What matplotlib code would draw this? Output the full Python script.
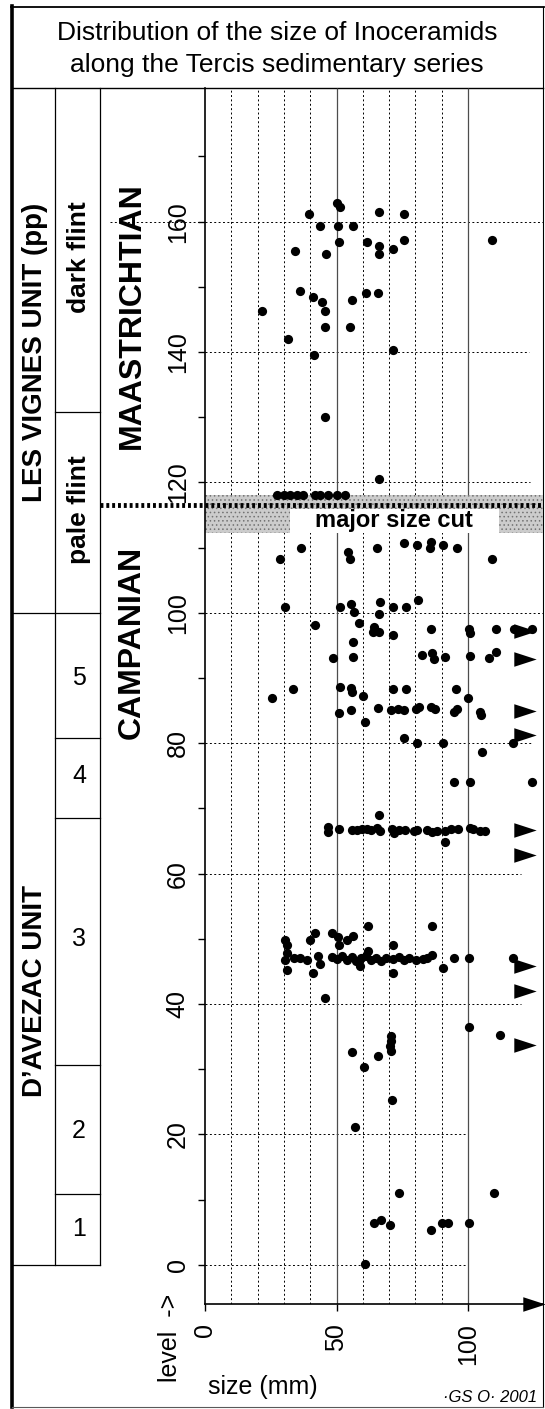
import numpy as np
import matplotlib.pyplot as plt
from matplotlib import transforms
from matplotlib.path import Path
from matplotlib.patches import Rectangle

plt.rcParams['font.family'] = ['Liberation Sans', 'DejaVu Sans']

title_lines = ["Distribution of the size of Inoceramids",
               "along the Tercis sedimentary series"]

# shells: (size in mm, level)
maastrichtian = [
    (50, 162.8), (51.5, 162.2), (39.5, 161.1), (66, 161.5), (75.8, 161.1),
    (43.6, 159.3), (50.6, 159.3), (56.2, 159.3),
    (50.9, 156.9), (61.6, 156.9), (66, 156.2), (66, 155.1), (71.3, 155.8),
    (75.8, 157.2), (34.3, 155.5), (46.1, 155.1), (109.2, 157.2),
    (36, 149.4), (41, 148.5), (44.6, 147.7), (45.8, 146.3), (55.9, 148),
    (61.2, 149.1), (65.6, 149.1), (21.5, 146.3),
    (45.8, 143.8), (55.2, 143.8), (31.7, 142), (41.4, 139.6), (71.3, 140.3),
    (45.8, 130), (66, 120.5),
    (27.4, 118.1), (29.9, 118.1), (32.4, 118.1), (34.9, 118.1), (37.4, 118.1),
    (41.8, 118.1), (43.7, 118.1), (46.9, 118.1), (50, 118.1), (53.1, 118.1),
]

campanian_upper = [
    (28.6, 108.3), (36.4, 110.0), (54.4, 109.3), (55, 108.3), (65.3, 110.0),
    (75.5, 110.7), (80.7, 110.4), (85.8, 110.9), (85.6, 110.0), (90.6, 110.4),
    (95.8, 110.0), (109, 108.3),
    (30.6, 100.9), (51.5, 100.9), (55.6, 101.4), (56.5, 100.2), (66.6, 101.6),
    (66.3, 99.8), (71.6, 100.9), (76.3, 100.9), (81, 101.9),
    (41.9, 98.1), (58.5, 98.4), (64.4, 97.8), (63.8, 97), (66.3, 97.1),
    (71.6, 96.6), (86, 97.6), (100.3, 97.6), (100.6, 96.9), (110.6, 97.6),
    (117.5, 97.6), (124.4, 97.5), (56.3, 95.6),
    (48.5, 93.1), (56.3, 93.3), (82.5, 93.6), (86.3, 93.8), (86.9, 92.9),
    (91.3, 93.2), (100.6, 93.4), (108.1, 93.1), (110.6, 94),
    (25.3, 86.9), (33.5, 88.3), (51.5, 88.6), (55.5, 88.5), (56, 87.8),
    (60.1, 87.2), (71.6, 88.3), (76.3, 88.3), (95.3, 88.3), (100, 86.9),
    (50.8, 84.7), (55.4, 85.1), (65.6, 85.4), (70.6, 85.1), (73.2, 85.3),
    (75.7, 85.1), (80.1, 85.3), (81.4, 85.6), (85.8, 85.6), (87.3, 85.3),
    (94.7, 84.8), (95.9, 85.3), (104.6, 84.8), (105, 84.3), (60.9, 83.3),
    (75.7, 80.8), (80.5, 80.1), (90.5, 80.1), (117.2, 80.1), (105.2, 78.6),
    (94.7, 74.1), (100.6, 74.1), (124.2, 74.1), (66, 69),
]

bed_67 = [
    (46.6, 67.1), (46.6, 66.4), (51, 66.9), (56, 66.7), (57.9, 66.7),
    (59.8, 66.9), (61.7, 66.8), (63, 66.7), (65.5, 67), (66.7, 66.6),
    (71.1, 66.9), (71.7, 66.3), (73.6, 66.7), (76.1, 66.7), (79.3, 66.6),
    (80.5, 66.7), (84.3, 66.7), (86.2, 66.4), (88.1, 66.6), (91.2, 66.5),
    (93.7, 66.8), (96.2, 66.9), (100.6, 67.0), (101.9, 66.8), (104.4, 66.6),
    (106.3, 66.6), (91.2, 64.9),
]

bed_47 = [
    (30.5, 49.8), (31.2, 49.1), (31.2, 47.8), (30.5, 46.8), (31.2, 45.2),
    (33.7, 47.1), (36.2, 47.1), (38.7, 46.8), (40, 49.8), (41.8, 50.9),
    (43.1, 47.3), (43.7, 46.1), (41.2, 44.8), (48.1, 50.9), (50.6, 50.3),
    (51, 49.1), (53.8, 49.8), (56.3, 50.5), (61.9, 51.9), (86.4, 51.9),
    (71.4, 49.1),
    (48.1, 47.2), (50, 46.9), (51.9, 47.4), (53.8, 46.7), (55.7, 47.2),
    (57.5, 46.6), (59.4, 47.1), (61.3, 47.4), (63.2, 46.8), (65.1, 47.0),
    (67, 46.6), (68.8, 47.1), (71.4, 46.9), (73.9, 47.2), (75.8, 46.8),
    (77.6, 47.0), (80.2, 46.7), (82.7, 46.9), (84.5, 47.0),
    (58.8, 45.8), (61.9, 48.2), (71.4, 44.8), (86.4, 47.5), (90.6, 45.5),
    (94.8, 47.1), (100.5, 47.1), (117.2, 47.1),
]

campanian_lower = [
    (45.6, 40.9), (100.4, 36.5), (112.2, 35.2), (55.9, 32.7), (60.5, 30.3),
    (65.8, 32.0), (70.9, 35.1), (70.9, 34.3), (70.9, 32.8), (70.2, 33.6),
    (71.1, 25.3), (57, 21.1), (73.9, 11.0), (109.9, 11.0),
    (64.2, 6.4), (66.9, 6.9), (70.2, 6.1), (86.1, 5.4), (90.1, 6.4),
    (92.3, 6.4), (100.3, 6.4), (60.7, 0.15),
]

# levels with shells larger than the scale (arrows)
big_levels = [97.2, 93.0, 85.0, 81.2, 66.7, 62.9, 45.8, 42.0, 33.7]

# columns on the left
units = ["LES VIGNES UNIT (pp)", "D\u2019AVEZAC UNIT"]
unit_label_at = [140, 42]
unit_limits = [100, 0]

subunits = ["dark flint", "pale flint", "5", "4", "3", "2", "1"]
subunit_label_at = [154.5, 115.8, 90, 75, 50, 20.5, 5.5]
subunit_limits = [130.8, 80.8, 68.5, 30.6, 10.8]

stages = ["MAASTRICHTIAN", "CAMPANIAN"]
stage_label_at = [145.6, 95.5]
size_cut = 116.6
cut_band = [112.3, 118.1]
cut_box = [32.4, 111.6, 116.0]

level_ticks = np.arange(0, 161, 20)
size_ticks = [0, 50, 100]
grid_sizes = [10, 20, 30, 40, 60, 70, 80, 90]
grid_right = [100, 100, 120, 120, 124, 128.5, 123.5, 123, 128.5]

pts = np.array(maastrichtian + campanian_upper + bed_67 + bed_47 + campanian_lower)

fig = plt.figure(figsize=(5.45, 14.09), dpi=100)
bg = fig.add_axes([0, 0, 1, 1])
bg.set_xlim(0, 545)
bg.set_ylim(1409, 0)
bg.axis('off')

ax = fig.add_axes([205 / 545, 105 / 1409, 338 / 545, 1216 / 1409])
ax.set_xlim(0, 128.5)
ax.set_ylim(-6, 180.5)
ax.patch.set_alpha(0)
top = 180.5

# x in figure pixels, y in levels
mix = transforms.blended_transform_factory(bg.transData, ax.transData)

# frame and title box
bg.plot([12, 12], [6, 1407], color='k', lw=2.6)
bg.plot([11, 544], [7, 7], color='k', lw=1.3)
bg.plot([543, 543], [7, 1407], color='k', lw=0.8)
bg.plot([12, 543], [1407, 1407], color='0.35', lw=0.8)
bg.plot([12, 543], [88, 88], color='k', lw=1.0)
bg.text(277, 33, title_lines[0], ha='center', va='center', fontsize=19)
bg.text(277, 65, title_lines[1], ha='center', va='center', fontsize=19)

# column table
for xc in [55, 100]:
    ax.plot([xc, xc], [0, top], color='k', lw=0.9, transform=mix, clip_on=False)
for lv in unit_limits:
    ax.plot([12, 100], [lv, lv], color='k', lw=0.9, transform=mix, clip_on=False)
for lv in subunit_limits:
    ax.plot([55, 100], [lv, lv], color='k', lw=0.9, transform=mix, clip_on=False)

for name, lv in zip(units, unit_label_at):
    ax.text(35, lv, name, transform=mix, rotation=90, ha='center', va='center',
            fontsize=20, fontweight='bold')
for name, lv in zip(subunits, subunit_label_at):
    if name.isdigit():
        ax.text(79, lv, name, transform=mix, ha='center', va='center', fontsize=18)
    else:
        ax.text(79, lv, name, transform=mix, rotation=90, ha='center',
                va='center', fontsize=19, fontweight='bold')
for name, lv in zip(stages, stage_label_at):
    ax.text(132, lv, name, transform=mix, rotation=90, ha='center', va='center',
            fontsize=23, fontweight='bold')

# grid
dots = (0, (2, 2.5))
for lv, xr in zip(level_ticks, grid_right):
    ax.plot([0, xr], [lv, lv], color='k', lw=0.7, ls=dots, zorder=1, clip_on=False)
ax.plot([110, 205], [160, 160], color='k', lw=0.7, ls=dots, transform=mix, clip_on=False)
ax.vlines(grid_sizes, -6, top, color='k', lw=0.7, ls=dots, zorder=1)
ax.vlines([50, 100], -6, top, color='0.3', lw=0.9, zorder=1)

# major size cut
plt.rcParams['hatch.linewidth'] = 0.6
ax.fill_between([0, 128.5], cut_band[0], cut_band[1], facecolor='0.8',
                edgecolor='0.45', hatch='....', lw=0, zorder=2)
ax.add_patch(Rectangle((cut_box[0], cut_band[0]), cut_box[1] - cut_box[0],
                       cut_box[2] - cut_band[0], facecolor='white', lw=0, zorder=3))
ax.plot([100, 543], [size_cut, size_cut], color='k', lw=3.5, ls=(0, (0.6, 0.6)),
        transform=mix, clip_on=False, zorder=4)
ax.text((cut_box[0] + cut_box[1]) / 2, (cut_band[0] + cut_box[2]) / 2, "major size cut",
        ha='center', va='center', fontsize=17, fontweight='bold', zorder=5)

# shells
ax.scatter(pts[:, 0], pts[:, 1], s=44, color='k', lw=0, zorder=6, clip_on=False)
arrow = Path([(-1, -0.65), (1, 0), (-1, 0.65), (-1, -0.65)], closed=True)
ax.scatter(np.full(len(big_levels), 121.5), big_levels, marker=arrow, s=260,
           color='k', lw=0, zorder=6, clip_on=False)
ax.scatter([125], [-6], marker=arrow, s=260, color='k', lw=0, zorder=6, clip_on=False)

# axes
for s in ['top', 'right']:
    ax.spines[s].set_visible(False)
ax.spines['left'].set_linewidth(1.2)
ax.spines['bottom'].set_linewidth(1.2)
ax.set_yticks(level_ticks)
ax.set_yticks(np.arange(10, 171, 20), minor=True)
ax.set_xticks(size_ticks)
ax.tick_params(axis='y', which='both', direction='out', length=5, width=1,
               labelsize=18, pad=6, labelrotation=90)
ax.tick_params(axis='x', direction='out', length=5, width=1, labelsize=18,
               pad=9, labelrotation=90)
for lab in ax.get_yticklabels():
    lab.set_va('center')

bg.text(170, 1338, "level  ->", rotation=90, ha='center', va='center', fontsize=18)
bg.text(263, 1387, "size (mm)", ha='center', va='center', fontsize=18)
bg.text(537, 1398, "\u00b7GS O\u00b7 2001", ha='right', va='center', fontsize=12,
        style='italic')

fig.savefig('out.png', dpi=100)
